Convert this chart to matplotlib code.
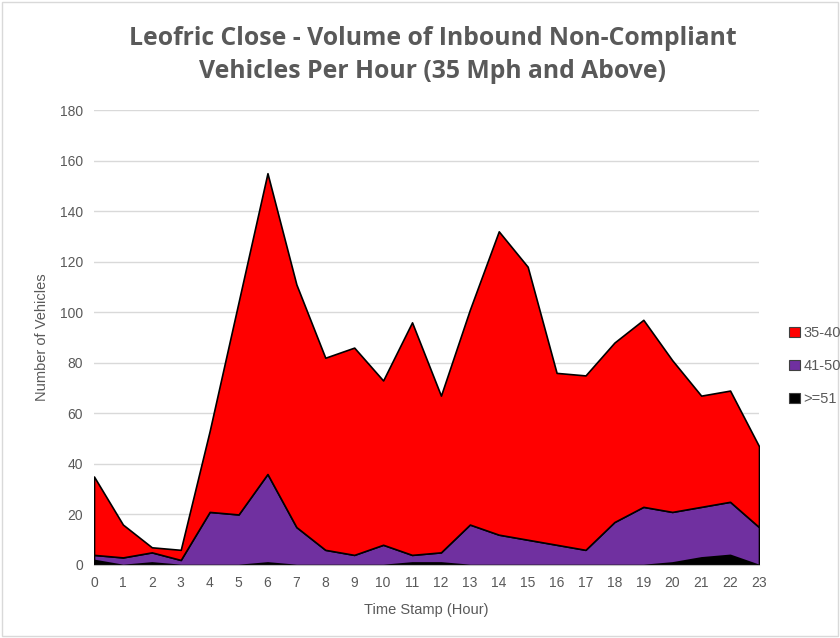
import numpy as np
import matplotlib.pyplot as plt
from matplotlib.patches import Patch

plt.rcParams['font.family'] = ['Liberation Sans', 'DejaVu Sans']

# data (stacked: >=51 bottom, then 41-50, then 35-40)
hours = list(range(24))
speed_51 = [2, 0, 1, 0, 0, 0, 1, 0, 0, 0, 0, 1, 1, 0, 0, 0, 0, 0, 0, 0, 1, 3, 4, 0]
speed_41_50 = [2, 3, 4, 2, 21, 20, 35, 15, 6, 4, 8, 3, 4, 16, 12, 10, 8, 6, 17, 23, 20, 20, 21, 15]
speed_35_40 = [31, 13, 2, 4, 32, 84, 119, 96, 76, 82, 65, 92, 62, 85, 120, 108, 68, 69, 71, 74, 60, 44, 44, 32]

labels = ['35-40', '41-50', '>=51']
colors = ['#ff0000', '#7030a0', '#000000']

fig = plt.figure(figsize=(8.4, 6.38), dpi=100)
ax = fig.add_axes([94 / 840, 1 - 565 / 638, (759 - 94) / 840, (565 - 110) / 638])

ax.stackplot(hours, speed_51, speed_41_50, speed_35_40,
             colors=[colors[2], colors[1], colors[0]],
             edgecolor='black', linewidth=1.2, zorder=2)

ax.set_xlim(0, 23)
ax.set_ylim(0, 180)
ax.set_xticks(hours)
ax.set_yticks(range(0, 181, 20))
ax.grid(axis='y', color='#d9d9d9', linewidth=1, zorder=0)
ax.set_axisbelow(True)
for s in ['top', 'right', 'left']:
    ax.spines[s].set_visible(False)
ax.spines['bottom'].set_color('#bfbfbf')
ax.tick_params(length=0, labelsize=10, labelcolor='#595959', pad=8)
ax.tick_params(axis='y', pad=8)

ax.set_xlabel('Time Stamp (Hour)', fontsize=10.5, color='#595959', labelpad=9)
ax.set_ylabel('Number of Vehicles', fontsize=10.5, color='#595959', labelpad=8)

fig.text(433 / 840, 1 - 55 / 638,
         'Leofric Close - Volume of Inbound Non-Compliant\nVehicles Per Hour (35 Mph and Above)',
         ha='center', va='center', fontsize=17.8, fontweight='bold', color='#595959',
         family=['Open Sans', 'DejaVu Sans'], linespacing=1.45)

handles = [Patch(facecolor=c, edgecolor='#404040', linewidth=0.8) for c in colors]
fig.legend(handles, labels, loc='center left', bbox_to_anchor=(789 / 840, 1 - 366 / 638),
           frameon=False, fontsize=10.5, labelcolor='#595959', handlelength=0.75,
           handleheight=0.75, handletextpad=0.25, labelspacing=1.3, borderpad=0,
           borderaxespad=0)

# light border around the chart area
fig.patches.append(plt.Rectangle((0.002, 0.003), 0.996, 0.994, transform=fig.transFigure,
                                 fill=False, edgecolor='#d9d9d9', linewidth=1))

fig.savefig('out.png', dpi=100)
